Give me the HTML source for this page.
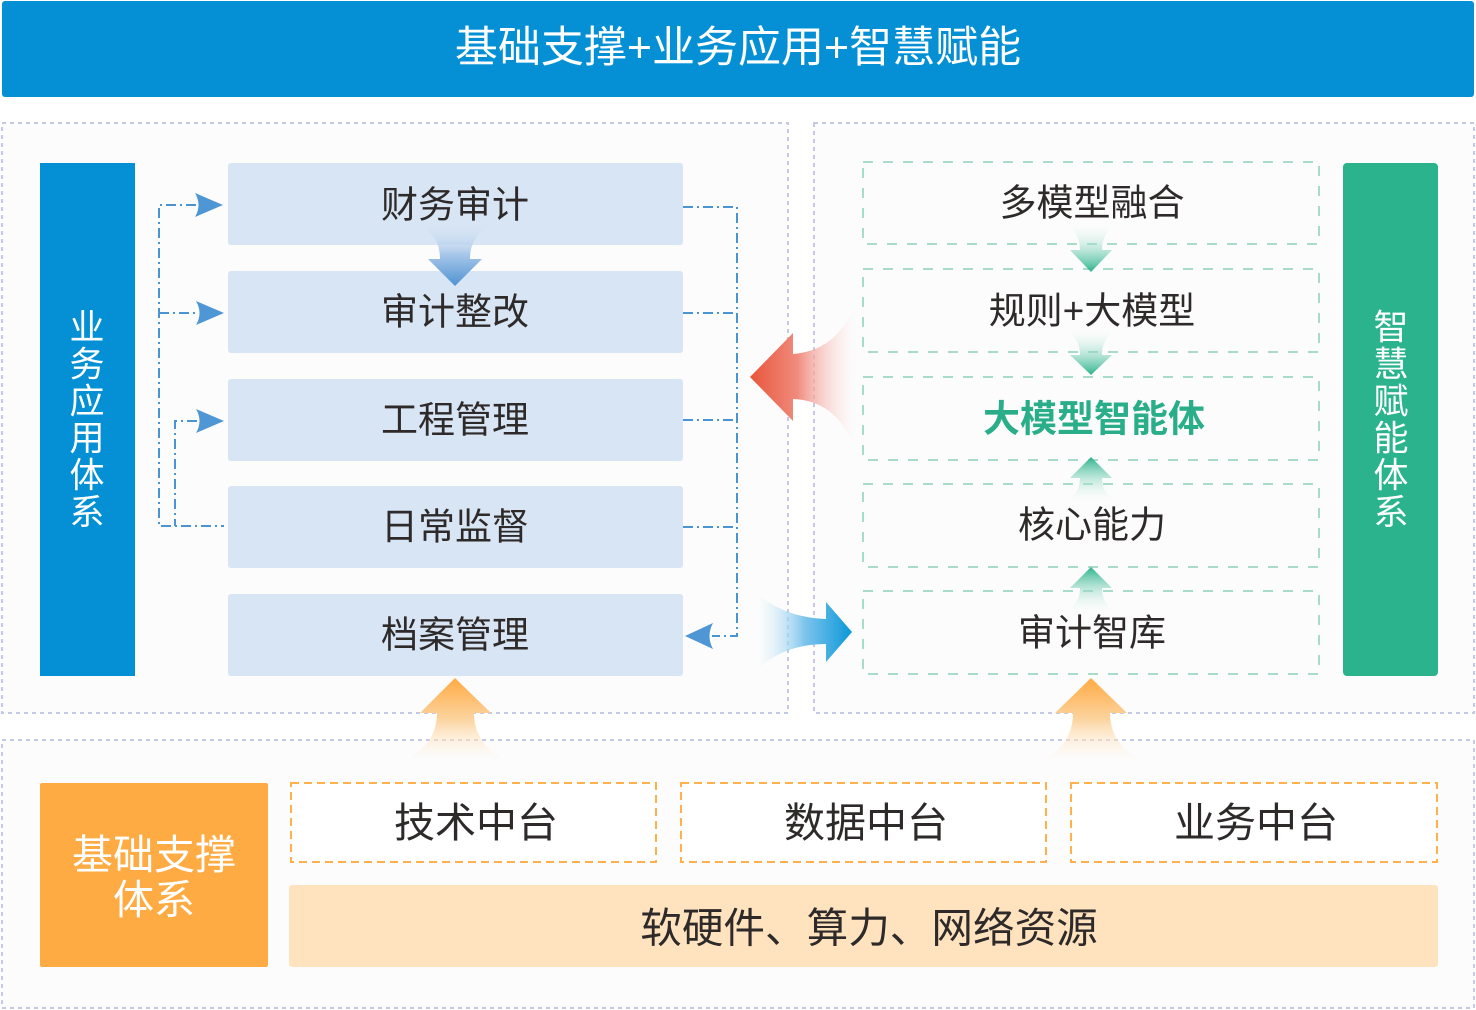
<!DOCTYPE html>
<html>
<head>
<meta charset="utf-8">
<style>
html,body{margin:0;padding:0;background:#fff;}
svg{display:block;}
text{font-family:"Liberation Sans","Noto Sans CJK SC",sans-serif;}
</style>
</head>
<body>
<svg width="1476" height="1010" viewBox="0 0 1476 1010" xmlns="http://www.w3.org/2000/svg">
<defs>
  <linearGradient id="gRed" gradientUnits="userSpaceOnUse" x1="750" y1="0" x2="856" y2="0">
    <stop offset="0" stop-color="#e8553a"/>
    <stop offset="0.45" stop-color="#f08c7e"/>
    <stop offset="1" stop-color="#fbe3e2" stop-opacity="0"/>
  </linearGradient>
  <linearGradient id="gBlue" gradientUnits="userSpaceOnUse" x1="757" y1="0" x2="852" y2="0">
    <stop offset="0" stop-color="#d7edf9" stop-opacity="0"/>
    <stop offset="0.5" stop-color="#7ec5ec"/>
    <stop offset="1" stop-color="#0a97d8"/>
  </linearGradient>
  <linearGradient id="gSmallBlue" gradientUnits="userSpaceOnUse" x1="0" y1="222" x2="0" y2="286">
    <stop offset="0" stop-color="#d8e5f4" stop-opacity="0"/>
    <stop offset="0.5" stop-color="#a8c7ea"/>
    <stop offset="1" stop-color="#4f93d2"/>
  </linearGradient>
  <linearGradient id="gGD1" gradientUnits="userSpaceOnUse" x1="0" y1="222" x2="0" y2="272">
    <stop offset="0" stop-color="#ffffff" stop-opacity="0"/>
    <stop offset="1" stop-color="#2ab38b"/>
  </linearGradient>
  <linearGradient id="gGD2" gradientUnits="userSpaceOnUse" x1="0" y1="327" x2="0" y2="375">
    <stop offset="0" stop-color="#ffffff" stop-opacity="0"/>
    <stop offset="1" stop-color="#2ab38b"/>
  </linearGradient>
  <linearGradient id="gGU1" gradientUnits="userSpaceOnUse" x1="0" y1="504" x2="0" y2="457">
    <stop offset="0" stop-color="#ffffff" stop-opacity="0"/>
    <stop offset="1" stop-color="#2ab38b"/>
  </linearGradient>
  <linearGradient id="gGU2" gradientUnits="userSpaceOnUse" x1="0" y1="615" x2="0" y2="567">
    <stop offset="0" stop-color="#ffffff" stop-opacity="0"/>
    <stop offset="1" stop-color="#2ab38b"/>
  </linearGradient>
  <linearGradient id="gOr" gradientUnits="userSpaceOnUse" x1="0" y1="762" x2="0" y2="678">
    <stop offset="0" stop-color="#fff4e6" stop-opacity="0"/>
    <stop offset="0.5" stop-color="#fcd4a0"/>
    <stop offset="1" stop-color="#ffab44"/>
  </linearGradient>
</defs>

<!-- Title bar -->
<rect x="2" y="1" width="1472" height="96" rx="3" fill="#0590d6"/>
<text x="738" y="48" font-size="43" fill="#ffffff" text-anchor="middle" dominant-baseline="central">基础支撑+业务应用+智慧赋能</text>

<!-- Dotted panels -->
<rect x="2" y="123" width="786" height="590" fill="#fcfcfc" stroke="#c4cae6" stroke-width="2" stroke-dasharray="4 4"/>
<rect x="814" y="123" width="660" height="590" fill="#fcfcfc" stroke="#c4cae6" stroke-width="2" stroke-dasharray="4 4"/>
<rect x="2" y="740" width="1472" height="268" fill="#fcfcfc" stroke="#c4cae6" stroke-width="2" stroke-dasharray="4 4"/>

<!-- Left blue bar -->
<rect x="40" y="163" width="95" height="513" fill="#0590d6"/>
<g font-size="35" fill="#ffffff" text-anchor="middle" dominant-baseline="central">
  <text x="87" y="328">业</text>
  <text x="87" y="365">务</text>
  <text x="87" y="402">应</text>
  <text x="87" y="439">用</text>
  <text x="87" y="476">体</text>
  <text x="87" y="513">系</text>
</g>

<!-- Light blue boxes -->
<g fill="#d8e5f4">
  <rect x="228" y="163" width="455" height="82" rx="3"/>
  <rect x="228" y="271" width="455" height="82" rx="3"/>
  <rect x="228" y="379" width="455" height="82" rx="3"/>
  <rect x="228" y="486" width="455" height="82" rx="3"/>
  <rect x="228" y="594" width="455" height="82" rx="3"/>
</g>

<!-- small down arrow -->
<path d="M455,286 L428,259 L440,259 C440,240 430,228 412,222 L498,222 C481,228 470,240 470,259 L482,259 Z" fill="url(#gSmallBlue)"/>

<g font-size="37" fill="#2e2a2a" text-anchor="middle" dominant-baseline="central">
  <text x="455" y="205">财务审计</text>
  <text x="455" y="312">审计整改</text>
  <text x="455" y="420">工程管理</text>
  <text x="455" y="527">日常监督</text>
  <text x="455" y="635">档案管理</text>
</g>

<!-- Blue dash-dot connectors -->
<g fill="none" stroke="#4b94d3" stroke-width="2" stroke-dasharray="10 4 2 4">
  <path d="M196,205 L159,205 L159,526 L224,526"/>
  <path d="M159,313 L196,313"/>
  <path d="M197,421 L175,421 L175,526"/>
  <path d="M683,207 L737,207 L737,636 L712,636"/>
  <path d="M683,313 L737,313"/>
  <path d="M683,420 L737,420"/>
  <path d="M683,527 L737,527"/>
</g>
<g fill="#4f96d4">
  <path d="M223,205 L195,193 Q202,205 195,217 Z"/>
  <path d="M224,313 L196,301 Q203,313 196,325 Z"/>
  <path d="M224,421 L196,409 Q203,421 196,433 Z"/>
  <path d="M685,636 L713,623 Q706,636 713,649 Z"/>
</g>

<!-- Red arrow -->
<path d="M750,377 L793,333 L793,354 C820,352 842,338 856,303 L856,450 C842,414 820,400 793,399 L793,421 Z" fill="url(#gRed)"/>

<!-- Blue arrow -->
<path d="M852,632 L826,602 L826,619 C800,618 775,610 757,593 L757,670 C775,652 800,644 826,644 L826,662 Z" fill="url(#gBlue)"/>

<!-- Right green dashed boxes -->
<g fill="none" stroke="#a8dcc9" stroke-width="2" stroke-dasharray="10 10">
  <rect x="863" y="162" width="456" height="82"/>
  <rect x="863" y="269" width="456" height="83"/>
  <rect x="863" y="377" width="456" height="83"/>
  <rect x="863" y="484" width="456" height="83"/>
  <rect x="863" y="591" width="456" height="83"/>
</g>

<!-- Green arrows -->
<path d="M1091,272 L1070,250 L1080,250 C1080,236 1072,226 1060,220 L1122,220 C1110,226 1102,236 1102,250 L1112,250 Z" fill="url(#gGD1)"/>
<path d="M1091,375 L1070,355 L1080,355 C1080,341 1072,332 1060,326 L1122,326 C1110,332 1102,341 1102,355 L1112,355 Z" fill="url(#gGD2)"/>
<path d="M1091,457 L1070,478 L1080,478 C1080,492 1072,499 1060,504 L1122,504 C1110,499 1102,492 1102,478 L1112,478 Z" fill="url(#gGU1)"/>
<path d="M1091,567 L1070,588 L1080,588 C1080,602 1072,610 1060,615 L1122,615 C1110,610 1102,602 1102,588 L1112,588 Z" fill="url(#gGU2)"/>

<g font-size="37" fill="#2e2a2a" text-anchor="middle" dominant-baseline="central">
  <text x="1092" y="203">多模型融合</text>
  <text x="1092" y="311">规则+大模型</text>
  <text x="1094" y="419" fill="#2aae8a" font-weight="600">大模型智能体</text>
  <text x="1092" y="525">核心能力</text>
  <text x="1092" y="633">审计智库</text>
</g>

<!-- Right green bar -->
<rect x="1343" y="163" width="95" height="513" rx="4" fill="#2bb38e"/>
<g font-size="35" fill="#ffffff" text-anchor="middle" dominant-baseline="central">
  <text x="1391" y="328">智</text>
  <text x="1391" y="365">慧</text>
  <text x="1391" y="402">赋</text>
  <text x="1391" y="439">能</text>
  <text x="1391" y="476">体</text>
  <text x="1391" y="513">系</text>
</g>

<!-- Orange up arrows -->
<path d="M455,678 L420,713 L437,713 C437,735 425,752 400,762 L511,762 C486,752 474,735 474,713 L491,713 Z" fill="url(#gOr)"/>
<path d="M1091,678 L1055,713 L1073,713 C1073,735 1062,752 1038,762 L1146,762 C1122,752 1110,735 1110,713 L1127,713 Z" fill="url(#gOr)"/>

<!-- Bottom section -->
<rect x="40" y="783" width="228" height="184" rx="2" fill="#ffab44"/>
<g font-size="41" fill="#ffffff" text-anchor="middle" dominant-baseline="central">
  <text x="154" y="855">基础支撑</text>
  <text x="154" y="900">体系</text>
</g>

<g fill="#ffffff" stroke="#ffb14d" stroke-width="2" stroke-dasharray="8 5">
  <rect x="291" y="783" width="365" height="79"/>
  <rect x="681" y="783" width="365" height="79"/>
  <rect x="1071" y="783" width="366" height="79"/>
</g>
<g font-size="41" fill="#2e2a2a" text-anchor="middle" dominant-baseline="central">
  <text x="476" y="823">技术中台</text>
  <text x="866" y="823">数据中台</text>
  <text x="1256" y="823">业务中台</text>
</g>

<rect x="289" y="885" width="1149" height="82" rx="3" fill="#ffe3bf"/>
<text x="869" y="928" font-size="41.6" fill="#2e2a2a" text-anchor="middle" dominant-baseline="central">软硬件、算力、网络资源</text>
</svg>
</body>
</html>
